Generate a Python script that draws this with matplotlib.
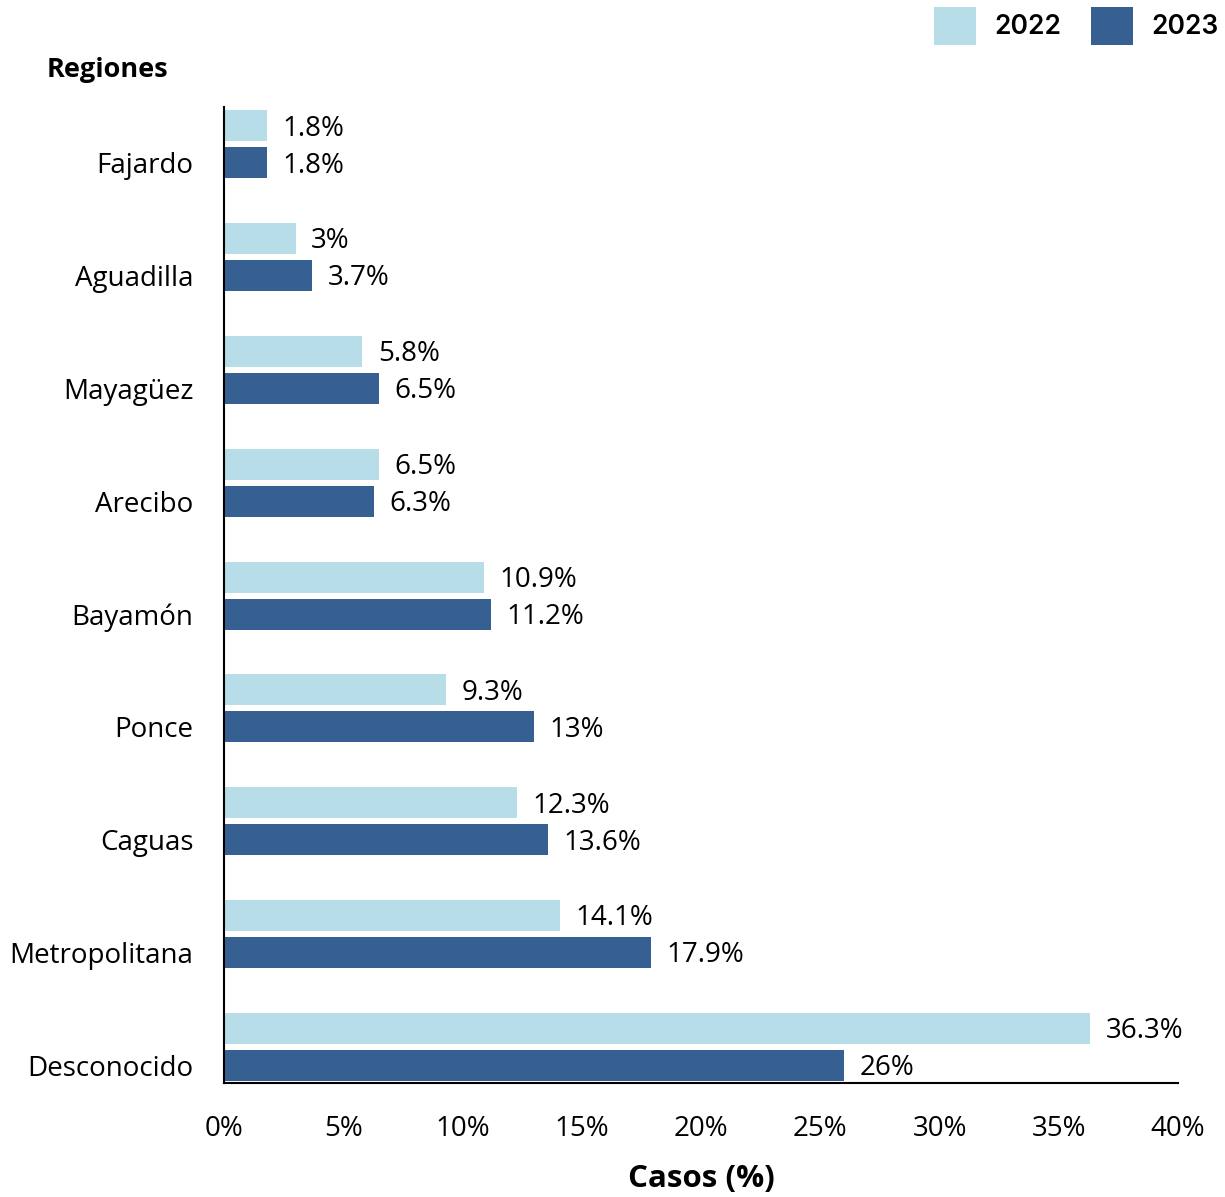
import numpy as np
import matplotlib.pyplot as plt
from matplotlib.ticker import FuncFormatter

regions = ['Fajardo', 'Aguadilla', 'Mayagüez', 'Arecibo', 'Bayamón',
           'Ponce', 'Caguas', 'Metropolitana', 'Desconocido']
cases_2022 = [1.8, 3, 5.8, 6.5, 10.9, 9.3, 12.3, 14.1, 36.3]
cases_2023 = [1.8, 3.7, 6.5, 6.3, 11.2, 13, 13.6, 17.9, 26]
years = ['2022', '2023']
xticks = [0, 5, 10, 15, 20, 25, 30, 35, 40]

plt.rcParams['font.family'] = ['Open Sans', 'DejaVu Sans']

light = '#b7dde8'
dark = '#366092'

fig = plt.figure(figsize=(12.25, 11.97), dpi=100)
ax = fig.add_axes([0.1829, 0.0952, 0.7788, 0.8154])

y = np.arange(len(regions))
h = 0.275
off = 0.164
b1 = ax.barh(y - off, cases_2022, height=h, color=light, label=years[0])
b2 = ax.barh(y + off, cases_2023, height=h, color=dark, label=years[1])

for bars, vals in [(b1, cases_2022), (b2, cases_2023)]:
    for bar, v in zip(bars, vals):
        ax.text(v + 0.65, bar.get_y() + bar.get_height() / 2 + 0.025, f'{v:g}%',
                va='center', ha='left', fontsize=20)

ax.set_xlim(0, 40)
ax.set_ylim(8.32, -0.33)
ax.set_xticks(xticks)
ax.xaxis.set_major_formatter(FuncFormatter(lambda v, p: f'{v:g}%'))
# category names sit level with the 2023 bar
ax.set_yticks(y + off)
ax.set_yticklabels(regions)
ax.tick_params(axis='both', length=0, labelsize=20)
ax.tick_params(axis='x', pad=23)
ax.tick_params(axis='y', pad=22)

ax.spines['top'].set_visible(False)
ax.spines['right'].set_visible(False)
ax.spines['left'].set_linewidth(1.5)
ax.spines['bottom'].set_linewidth(1.5)

ax.set_xlabel('Casos (%)', fontsize=22.5, fontweight='bold', labelpad=15)
fig.text(47 / 1225, 1 - 70 / 1197, 'Regiones', fontsize=19.5, fontweight='bold',
         ha='left', va='center')

fig.legend(handles=[b1, b2], loc='upper right', bbox_to_anchor=(1.0143, 1.014),
           ncol=2, frameon=False, handlelength=1.6,
           handleheight=1.84, handletextpad=0.7, columnspacing=1.1,
           prop={'family': 'Inter', 'size': 19, 'weight': 'semibold'})

fig.savefig('out.png', dpi=100)
